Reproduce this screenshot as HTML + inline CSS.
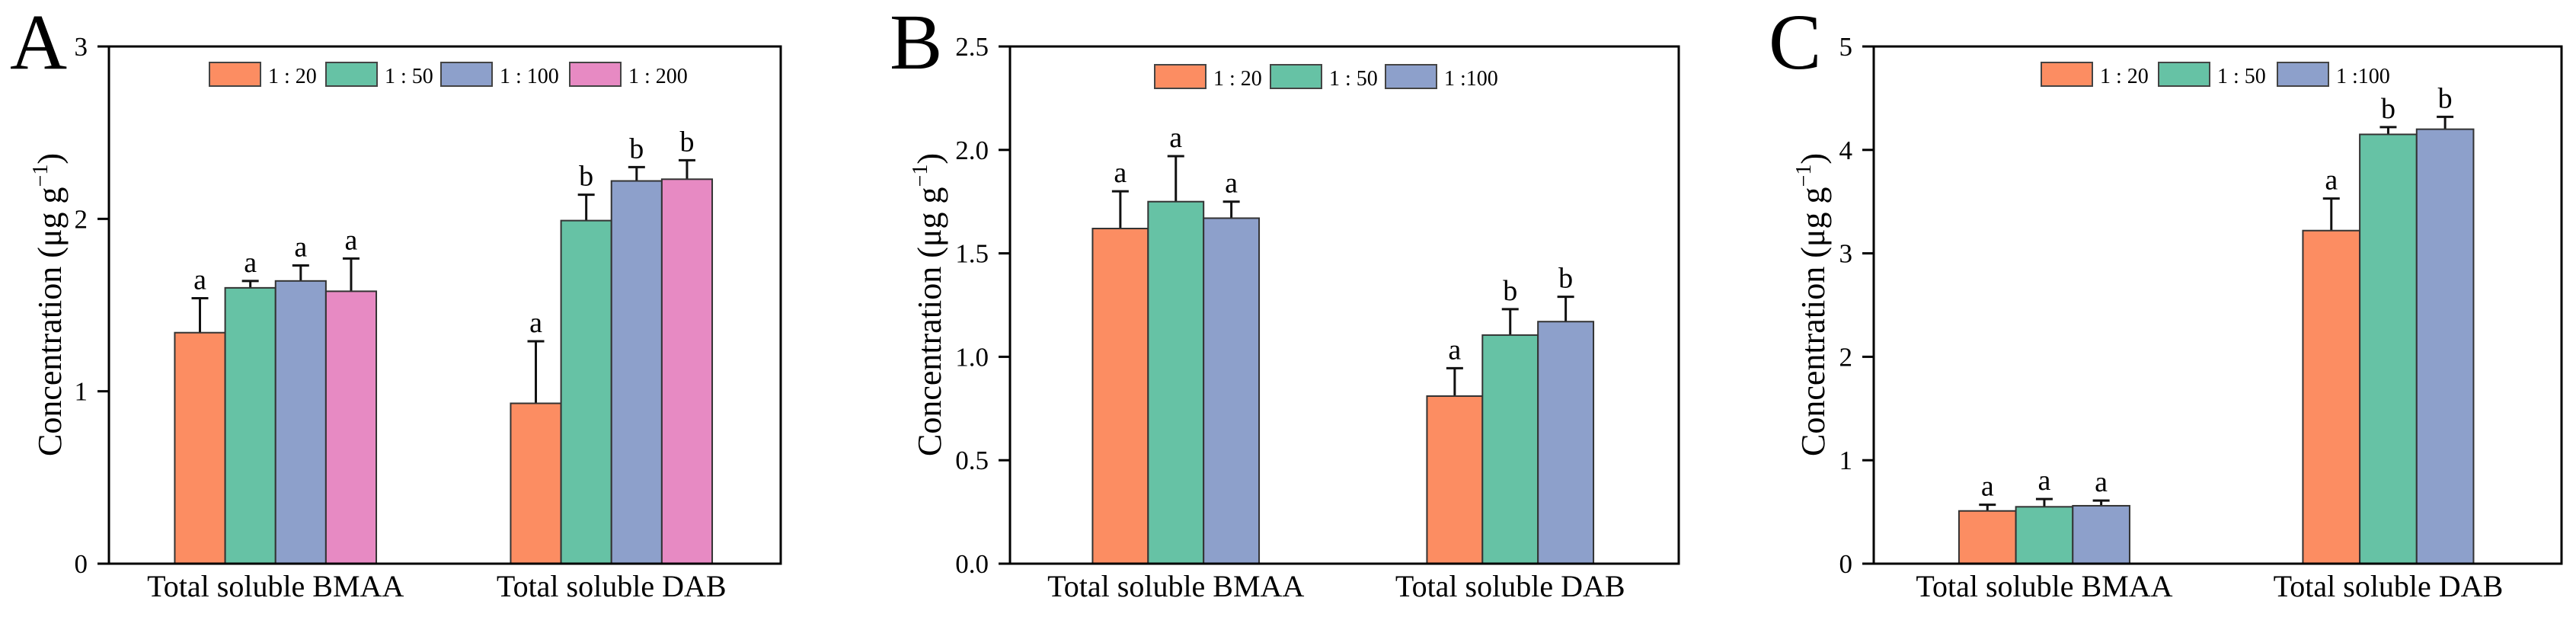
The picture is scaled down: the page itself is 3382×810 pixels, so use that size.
<!DOCTYPE html>
<html><head><meta charset="utf-8"><style>
html,body{margin:0;padding:0;background:#fff;}
svg{display:block;font-family:"Liberation Serif","Times New Roman",serif;}
</style></head><body>
<svg id="fig" width="3382" height="810" viewBox="0 0 3382 810" xmlns="http://www.w3.org/2000/svg"></svg>
<script>
const categories = ["Total soluble BMAA", "Total soluble DAB"];
const seriesColors = ["#FC8D62", "#66C2A5", "#8DA0CB", "#E78AC3"];
// Panel A
const aLabels = ["1 : 20", "1 : 50", "1 : 100", "1 : 200"];
const aMeans = [[1.34, 1.60, 1.64, 1.58], [0.93, 1.99, 2.22, 2.23]];
const aErrTop = [[1.54, 1.64, 1.73, 1.77], [1.29, 2.14, 2.30, 2.34]];
const aSig = [["a", "a", "a", "a"], ["a", "b", "b", "b"]];
const aTicks = ["0", "1", "2", "3"];
const aTickVals = [0, 1, 2, 3];
// Panel B
const bLabels = ["1 : 20", "1 : 50", "1 :100"];
const bMeans = [[1.62, 1.75, 1.67], [0.81, 1.105, 1.17]];
const bErrTop = [[1.80, 1.97, 1.75], [0.945, 1.23, 1.29]];
const bSig = [["a", "a", "a"], ["a", "b", "b"]];
const bTicks = ["0.0", "0.5", "1.0", "1.5", "2.0", "2.5"];
const bTickVals = [0, 0.5, 1.0, 1.5, 2.0, 2.5];
// Panel C
const cLabels = ["1 : 20", "1 : 50", "1 :100"];
const cMeans = [[0.51, 0.55, 0.56], [3.22, 4.15, 4.20]];
const cErrTop = [[0.57, 0.625, 0.61], [3.53, 4.22, 4.32]];
const cSig = [["a", "a", "a"], ["a", "b", "b"]];
const cTicks = ["0", "1", "2", "3", "4", "5"];
const cTickVals = [0, 1, 2, 3, 4, 5];

const NS = "http://www.w3.org/2000/svg";
const svg = document.getElementById("fig");
function mk(tag, attrs, parent, txt) {
  const e = document.createElementNS(NS, tag);
  for (const k in attrs) e.setAttribute(k, attrs[k]);
  if (txt !== undefined) e.textContent = txt;
  (parent || svg).appendChild(e);
  return e;
}

function panel(cfg) {
  const g = mk("g", {});
  
  
  const L = cfg.left, R = cfg.right, T = 61, B = 740;
  const W = R - L;
  const ymax = cfg.tickVals[cfg.tickVals.length - 1];
  const y = v => B - (v / ymax) * (B - T);
  const n = cfg.labels.length;
  const bw = W * cfg.barFrac;
  const catPos = [0.248, 0.748];
  const x = (ci, si) => L + catPos[ci] * W - n * bw / 2 + si * bw;

  // panel letter
  const pl = mk("text", {x: cfg.letterX, y: 90, "font-size": 104}, g, cfg.id);
  
  

  // bars
  for (let ci = 0; ci < categories.length; ci++) {
    for (let si = 0; si < n; si++) {
      const v = cfg.means[ci][si];
      const e = cfg.err[ci][si];
      const bx = x(ci, si);
      const cx = bx + bw / 2;
      const eb = mk("line", {x1: cx, x2: cx, y1: y(v), y2: y(e), stroke: "#111", "stroke-width": 3}, g);
      
      
      const cap = mk("line", {x1: cx - 11, x2: cx + 11, y1: y(e), y2: y(e), stroke: "#111", "stroke-width": 3}, g);
      
      
      const r = mk("rect", {x: bx, y: y(v), width: bw, height: B - y(v), fill: seriesColors[si], stroke: "#333", "stroke-width": 2}, g);
      
      
      const s = mk("text", {x: cx, y: y(e) - 12, "font-size": 38, "text-anchor": "middle"}, g, cfg.sig[ci][si]);
      
      
    }
    const cl = mk("text", {x: L + catPos[ci] * W, y: 783, "font-size": 40, "text-anchor": "middle"}, g, categories[ci]);
    
    
  }

  // axes frame
  const fr = mk("rect", {x: L, y: T, width: W, height: B - T, fill: "none", stroke: "#000", "stroke-width": 3}, g);
  
  
  for (let i = 0; i < cfg.tickVals.length; i++) {
    const ty = y(cfg.tickVals[i]);
    const tk = mk("line", {x1: L - 15, x2: L, y1: ty, y2: ty, stroke: "#000", "stroke-width": 3}, g);
    
    
    const tl = mk("text", {x: L - 28, y: ty + 12, "font-size": 35, "text-anchor": "end"}, g, cfg.ticks[i]);
    
    
  }
  // y title
  const yt = mk("text", {x: 0, y: 0, "font-size": 44, "text-anchor": "middle", transform: `translate(${cfg.titleX},400) rotate(-90)`}, g);
  
  
  mk("tspan", {}, yt, "Concentration (μg g");
  mk("tspan", {"font-size": 28, dy: -18}, yt, "−1");
  mk("tspan", {dy: 18}, yt, ")");

  // legend
  for (let si = 0; si < n; si++) {
    const lx = cfg.legendX[si];
    const lg = mk("g", {}, g);
    
    
    mk("rect", {x: lx, y: cfg.legendY, width: 67, height: 31, fill: seriesColors[si], stroke: "#444", "stroke-width": 2}, lg);
    mk("text", {x: lx + 77, y: cfg.legendY + 27, "font-size": 28}, lg, cfg.labels[si]);
  }
}

panel({id: "A", left: 143, right: 1025, barFrac: 0.075, means: aMeans, err: aErrTop, sig: aSig, labels: aLabels,
  ticks: aTicks, tickVals: aTickVals, letterX: 13, titleX: 80, legendX: [275, 428, 579, 748], legendY: 82});
panel({id: "B", left: 1326, right: 2204, barFrac: 0.083, means: bMeans, err: bErrTop, sig: bSig, labels: bLabels,
  ticks: bTicks, tickVals: bTickVals, letterX: 1168, titleX: 1235, legendX: [1516, 1668, 1819], legendY: 85});
panel({id: "C", left: 2460, right: 3363, barFrac: 0.0827, means: cMeans, err: cErrTop, sig: cSig, labels: cLabels,
  ticks: cTicks, tickVals: cTickVals, letterX: 2322, titleX: 2395, legendX: [2680, 2834, 2990], legendY: 82});
</script>
</body></html>
